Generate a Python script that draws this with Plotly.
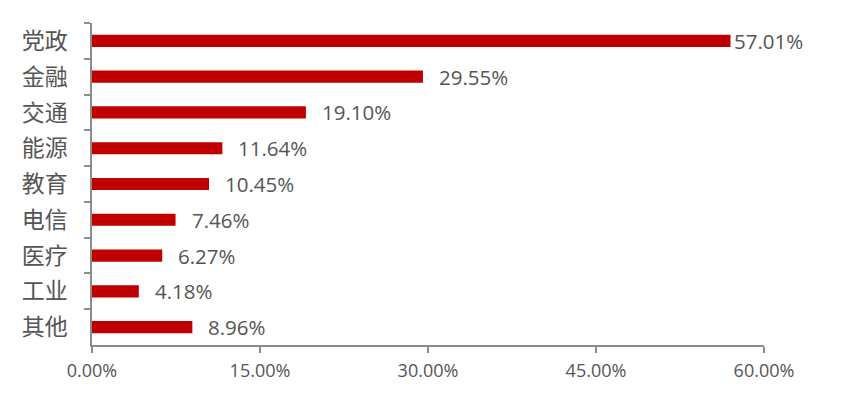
import plotly.graph_objects as go

categories = ["党政", "金融", "交通", "能源", "教育", "电信", "医疗", "工业", "其他"]
values = [57.01, 29.55, 19.10, 11.64, 10.45, 7.46, 6.27, 4.18, 8.96]
x_ticks = [0, 15, 30, 45, 60]
x_tick_labels = ["0.00%", "15.00%", "30.00%", "45.00%", "60.00%"]

BAR_COLOR = "#C00000"
TEXT_COLOR = "#555555"
AXIS_COLOR = "#8C8C8C"
NUM_FONT = "Open Sans"
CJK_FONT = "Noto Sans CJK SC"

fig = go.Figure()
fig.add_trace(go.Bar(
    y=categories, x=values, orientation="h",
    marker=dict(color=BAR_COLOR, line=dict(width=0)),
    width=0.34, hoverinfo="skip",
))

vmax = max(values)
for c, v in zip(categories, values):
    fig.add_annotation(
        x=v, y=c, xref="x", yref="y", text=f"{v:.2f}%", showarrow=False,
        xanchor="left", yanchor="middle", xshift=1 if v == vmax else 14,
        font=dict(family=NUM_FONT, size=20.5, color=TEXT_COLOR),
    )

fig.update_layout(
    width=845, height=395,
    margin=dict(l=92, r=81, t=23, b=50),
    paper_bgcolor="white", plot_bgcolor="white",
    showlegend=False,
    xaxis=dict(
        range=[0, 60], tickvals=x_ticks, ticktext=x_tick_labels,
        showgrid=False, zeroline=False,
        showline=True, linecolor=AXIS_COLOR, linewidth=1.5,
        ticks="outside", ticklen=6, tickcolor=AXIS_COLOR, tickwidth=1.5,
        ticklabelstandoff=3,
        tickfont=dict(family=NUM_FONT, size=18, color=TEXT_COLOR),
        fixedrange=True,
    ),
    yaxis=dict(
        categoryorder="array", categoryarray=categories, autorange="reversed",
        showgrid=False, zeroline=False,
        showline=True, linecolor=AXIS_COLOR, linewidth=1.5,
        ticks="outside", ticklen=6, tickcolor=AXIS_COLOR, tickwidth=1.5,
        tickson="boundaries", ticklabelstandoff=18,
        tickfont=dict(family=CJK_FONT, size=23, color=TEXT_COLOR),
        fixedrange=True,
    ),
)

fig.write_html("out.html", config={"displayModeBar": False})
